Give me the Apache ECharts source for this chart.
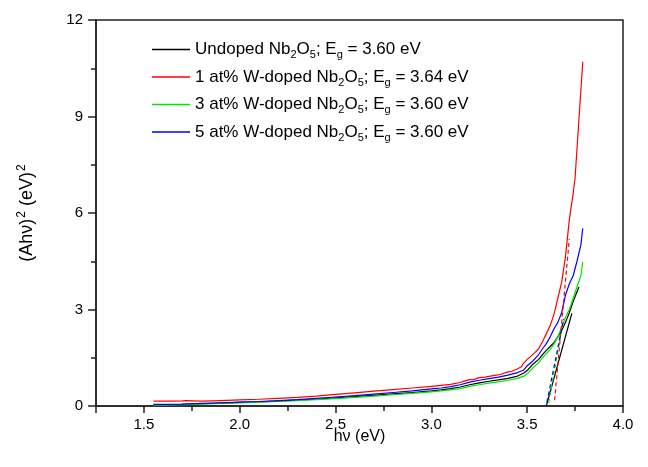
<!DOCTYPE html>
<html>
<head>
<meta charset="utf-8">
<script src="https://cdn.jsdelivr.net/npm/echarts@6/dist/echarts.min.js"></script>
<style>html,body{margin:0;padding:0;background:#fff}#c{width:648px;height:467px}</style>
</head>
<body>
<div id="c"></div>
<script>
// Series names (legend order)
const seriesNames = [
  "Undoped Nb2O5; Eg = 3.60 eV",
  "1 at% W-doped Nb2O5; Eg = 3.64 eV",
  "3 at% W-doped Nb2O5; Eg = 3.60 eV",
  "5 at% W-doped Nb2O5; Eg = 3.60 eV"
];
const legendRich = [
  "Undoped Nb{sub|2}O{sub|5}; E{sub|g} = 3.60 eV",
  "1 at% W-doped Nb{sub|2}O{sub|5}; E{sub|g} = 3.64 eV",
  "3 at% W-doped Nb{sub|2}O{sub|5}; E{sub|g} = 3.60 eV",
  "5 at% W-doped Nb{sub|2}O{sub|5}; E{sub|g} = 3.60 eV"
];
const seriesColors = ["#000000", "#ff0000", "#00e600", "#0000ff"];

// Undoped (black)
const undopedX = [1.55,1.60,1.70,1.80,1.90,2.00,2.10,2.20,2.30,2.40,2.50,2.60,2.70,2.80,2.90,3.00,3.05,3.10,3.15,3.20,3.25,3.30,3.35,3.40,3.45,3.48,3.50,3.53,3.56,3.58,3.60,3.62,3.64,3.66,3.68,3.70,3.72,3.74,3.76,3.77];
const undopedY = [0.04,0.04,0.05,0.07,0.09,0.11,0.13,0.15,0.18,0.21,0.25,0.29,0.33,0.38,0.42,0.47,0.50,0.54,0.59,0.66,0.72,0.77,0.81,0.86,0.93,1.02,1.10,1.30,1.45,1.60,1.73,1.85,1.97,2.15,2.35,2.60,2.90,3.25,3.55,3.70];

// 1 at% (red)
const w1X = [1.55,1.60,1.65,1.70,1.72,1.73,1.80,1.90,2.00,2.10,2.20,2.30,2.40,2.50,2.60,2.70,2.80,2.90,3.00,3.05,3.10,3.15,3.18,3.20,3.22,3.25,3.28,3.30,3.33,3.36,3.40,3.42,3.45,3.47,3.48,3.50,3.52,3.54,3.56,3.58,3.60,3.62,3.64,3.66,3.68,3.70,3.72,3.74,3.75,3.76,3.77,3.78,3.79];
const w1Y = [0.15,0.15,0.15,0.16,0.17,0.14,0.15,0.17,0.19,0.21,0.24,0.27,0.31,0.36,0.41,0.46,0.51,0.56,0.61,0.64,0.67,0.73,0.79,0.82,0.82,0.88,0.90,0.92,0.95,0.98,1.06,1.08,1.16,1.22,1.32,1.45,1.55,1.66,1.78,2.00,2.25,2.50,2.85,3.35,3.85,4.65,5.80,6.60,7.10,8.00,8.90,9.80,10.70];

// 3 at% (green)
const w3X = [1.55,1.60,1.70,1.80,1.90,2.00,2.10,2.20,2.30,2.40,2.50,2.60,2.70,2.80,2.90,3.00,3.05,3.10,3.15,3.20,3.25,3.30,3.35,3.40,3.45,3.48,3.50,3.53,3.56,3.58,3.60,3.62,3.64,3.66,3.68,3.70,3.72,3.74,3.76,3.78,3.79];
const w3Y = [0.03,0.03,0.04,0.06,0.08,0.10,0.12,0.14,0.17,0.20,0.23,0.27,0.31,0.35,0.39,0.44,0.47,0.50,0.54,0.61,0.66,0.71,0.75,0.80,0.86,0.92,1.00,1.18,1.35,1.50,1.63,1.75,1.92,2.15,2.45,2.75,3.00,3.35,3.70,4.05,4.48];

// 5 at% (blue)
const w5X = [1.55,1.60,1.70,1.80,1.90,2.00,2.10,2.20,2.30,2.40,2.50,2.60,2.70,2.80,2.90,3.00,3.05,3.10,3.15,3.20,3.25,3.30,3.35,3.40,3.45,3.48,3.50,3.53,3.56,3.58,3.60,3.62,3.64,3.66,3.68,3.70,3.72,3.74,3.76,3.78,3.79];
const w5Y = [0.05,0.05,0.06,0.08,0.10,0.12,0.14,0.17,0.20,0.24,0.28,0.32,0.37,0.42,0.47,0.53,0.56,0.60,0.66,0.74,0.80,0.85,0.90,0.96,1.04,1.11,1.25,1.40,1.60,1.78,1.94,2.15,2.40,2.60,2.90,3.45,3.80,4.05,4.50,5.00,5.52];

// Linear band-gap fits (endpoints)
const fitUndopedX = [3.600, 3.733]; const fitUndopedY = [0.00, 2.88];
const fitW1X = [3.643, 3.720];      const fitW1Y = [0.18, 5.20];
const fitW3X = [3.612, 3.680];      const fitW3Y = [0.10, 2.35];
const fitW5X = [3.603, 3.690];      const fitW5Y = [0.12, 2.70];

// Axis settings
const xMin = 1.25, xMax = 4.0;
const yMin = 0, yMax = 12, yInterval = 3;

function pairs(xs, ys) { return xs.map((x, i) => [x, ys[i]]); }

const FONT = "Liberation Sans";
const curves = [[undopedX, undopedY], [w1X, w1Y], [w3X, w3Y], [w5X, w5Y]];
const fits = [[fitUndopedX, fitUndopedY, 'solid'], [fitW1X, fitW1Y, 'dashed'], [fitW3X, fitW3Y, 'dashed'], [fitW5X, fitW5Y, 'dashed']];

const series = [];
curves.forEach((c, i) => {
  series.push({
    name: seriesNames[i], type: 'line', data: pairs(c[0], c[1]),
    symbol: 'none', lineStyle: { color: seriesColors[i], width: 1.2 },
    itemStyle: { color: seriesColors[i] }, z: 2 + i
  });
});
fits.forEach((f, i) => {
  series.push({
    name: 'fit' + i, type: 'line', data: pairs(f[0], f[1]),
    symbol: 'none', silent: true,
    lineStyle: { color: seriesColors[i], width: 1.2, type: f[2] === 'dashed' ? [4, 3] : 'solid' },
    z: 10
  });
});

const chart = echarts.init(document.getElementById('c'), null, { renderer: 'canvas' });
chart.setOption({
  animation: false,
  backgroundColor: '#fff',
  grid: { left: 96, right: 25, top: 20, bottom: 61, show: true, borderColor: '#222', borderWidth: 1.5, backgroundColor: 'transparent' },
  legend: {
    data: seriesNames, orient: 'vertical', left: 147, top: 36,
    icon: 'rect', itemWidth: 38, itemHeight: 1.3, itemGap: 8,
    formatter: function (name) { return legendRich[seriesNames.indexOf(name)]; },
    textStyle: { fontFamily: FONT, fontSize: 17, color: '#000',
      rich: { sub: { fontFamily: FONT, fontSize: 11, color: '#000', padding: [11, 0, 0, 0] } } }
  },
  xAxis: {
    type: 'value', min: xMin, max: xMax, splitNumber: 5,
    name: 'hν (eV)', nameLocation: 'middle', nameGap: 23, nameMoveOverlap: false,
    nameTextStyle: { fontFamily: FONT, fontSize: 16, color: '#000' },
    axisLine: { onZero: false, lineStyle: { color: '#222', width: 1.5 } },
    axisTick: { inside: false, length: 7, lineStyle: { color: '#222', width: 1.5 } },
    minorTick: { show: true, splitNumber: 2, length: 5, lineStyle: { color: '#222', width: 1.5 } },
    axisLabel: { showMinLabel: false, fontFamily: FONT, fontSize: 15, color: '#000', margin: 11,
      formatter: v => v.toFixed(1) },
    splitLine: { show: false }
  },
  yAxis: {
    type: 'value', min: yMin, max: yMax, interval: yInterval,
    name: '(Ahν){sup|2} (eV){sup|2}', nameLocation: 'middle', nameGap: 58, nameRotate: 90, nameMoveOverlap: false,
    nameTextStyle: { fontFamily: FONT, fontSize: 18, color: '#000',
      rich: { sup: { fontFamily: FONT, fontSize: 12, color: '#000', padding: [0, 0, 10, 1] } } },
    axisLine: { onZero: false, lineStyle: { color: '#222', width: 1.5 } },
    axisTick: { inside: false, length: 8, lineStyle: { color: '#222', width: 1.5 } },
    minorTick: { show: true, splitNumber: 2, length: 5, lineStyle: { color: '#222', width: 1.5 } },
    axisLabel: { fontFamily: FONT, fontSize: 15, color: '#000', margin: 13 },
    splitLine: { show: false }
  },
  series: series
});
</script>
</body>
</html>
